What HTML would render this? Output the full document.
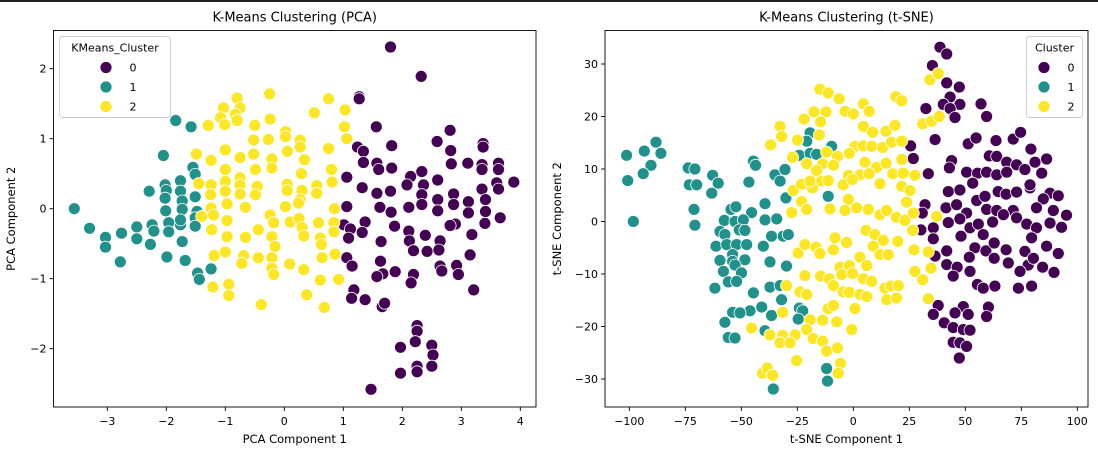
<!DOCTYPE html>
<html><head><meta charset="utf-8"><style>
html,body{margin:0;padding:0;background:#fff;}
svg{display:block;font-family:"DejaVu Sans","Liberation Sans",sans-serif;}
</style></head><body>
<svg id="chart" width="1098" height="455" viewBox="0 0 1098 455">
<rect x="0" y="0" width="1098" height="2" fill="#222"/>
</svg>
<script>
const clusterColors = ["#440154","#21918c","#fde725"];
const clusterLabels = ["0","1","2"];
const pcaXTicks = [-3,-2,-1,0,1,2,3,4];
const pcaYTicks = [-2,-1,0,1,2];
const tsneXTicks = [-100,-75,-50,-25,0,25,50,75,100];
const tsneYTicks = [-30,-20,-10,0,10,20,30];

const pcaX0 = [1.80,2.32,1.27,1.27,1.56,2.81,1.82,1.24,1.34,2.59,3.37,3.37,2.82,1.34,1.57,1.82,2.83,3.11,3.35,3.63,3.35,3.63,1.06,1.60,2.33,2.14,2.08,2.36,2.60,1.32,1.57,1.80,2.33,2.87,3.35,3.60,3.89,3.63,1.06,1.62,1.81,2.11,2.33,2.60,2.60,2.87,3.12,3.12,3.41,3.41,3.40,3.66,1.87,1.37,1.01,1.12,1.09,1.32,1.64,2.11,2.12,2.39,2.19,2.42,2.64,2.62,2.90,2.81,3.18,3.15,1.06,1.15,1.63,1.67,1.57,1.88,2.19,2.15,2.64,2.67,2.92,2.95,3.21,1.18,1.14,1.37,1.66,1.70,2.25,2.25,2.22,1.97,2.50,2.52,2.25,2.25,2.50,1.97,1.47];
const pcaY0 = [2.31,1.89,1.60,1.57,1.17,1.12,0.90,0.88,0.82,0.96,0.93,0.88,0.83,0.66,0.65,0.58,0.64,0.65,0.63,0.65,0.56,0.56,0.45,0.56,0.53,0.46,0.34,0.34,0.41,0.30,0.22,0.25,0.20,0.21,0.28,0.37,0.38,0.28,0.03,0.02,-0.05,0.02,0.06,0.13,-0.03,0.06,0.10,-0.06,0.13,-0.04,-0.21,-0.13,-0.25,-0.19,-0.23,-0.29,-0.42,-0.34,-0.47,-0.32,-0.46,-0.38,-0.60,-0.61,-0.46,-0.59,-0.22,-0.24,-0.37,-0.66,-0.70,-0.82,-0.75,-0.93,-0.97,-0.90,-0.94,-1.06,-0.82,-0.89,-0.81,-0.94,-1.16,-1.16,-1.28,-1.30,-1.40,-1.35,-1.67,-1.75,-1.90,-1.98,-1.95,-2.09,-2.25,-2.33,-2.25,-2.35,-2.58];
const pcaX1 = [-1.84,-1.58,-2.05,-1.55,-1.51,-2.02,-1.76,-2.29,-2.00,-2.02,-2.01,-1.76,-1.73,-1.73,-1.51,-1.48,-1.51,-1.51,-1.76,-1.96,-2.24,-2.21,-1.96,-2.50,-2.50,-2.76,-3.03,-3.03,-3.30,-3.56,-2.78,-2.27,-1.73,-1.99,-1.68,-1.47,-1.44,-1.24,-1.76];
const pcaY1 = [1.26,1.17,0.76,0.59,0.49,0.34,0.40,0.25,0.26,0.15,-0.03,0.25,0.11,-0.01,0.17,-0.04,-0.13,-0.25,-0.23,-0.20,-0.23,-0.32,-0.33,-0.26,-0.43,-0.35,-0.41,-0.55,-0.28,0.00,-0.76,-0.51,-0.47,-0.69,-0.74,-0.92,-1.01,-0.86,-0.16];
const pcaX2 = [-0.80,-0.25,0.75,-1.03,-0.75,-0.83,-1.08,-1.01,-0.80,-1.29,-0.50,-0.24,0.51,1.03,1.02,1.06,0.02,0.02,-0.52,-0.27,0.27,0.27,0.75,-1.00,-1.49,-1.24,-0.75,-0.52,-0.21,0.05,0.34,-1.00,-0.49,-0.21,0.29,0.80,0.81,-0.75,-1.00,-1.45,-1.24,-1.25,-1.00,-0.75,-0.46,-0.75,0.05,0.30,0.55,0.55,0.05,-0.97,-0.66,-0.49,0.27,0.02,0.24,0.85,-1.24,-1.20,-0.97,-1.23,-0.97,-0.66,-0.44,-0.24,-0.18,0.10,0.25,0.30,0.58,0.84,0.33,0.61,0.84,0.63,-0.21,-0.16,-0.21,-0.21,-0.18,-0.44,-0.69,-0.72,-1.00,-1.19,0.09,0.33,0.64,0.86,0.61,0.92,-1.21,-0.94,-0.94,-0.39,0.38,0.68,-1.40];
const pcaY2 = [1.58,1.64,1.57,1.44,1.44,1.35,1.30,1.20,1.26,1.19,1.19,1.28,1.37,1.41,1.17,1.00,1.10,1.03,0.98,0.99,0.98,0.88,0.86,0.84,0.78,0.69,0.73,0.78,0.71,0.82,0.70,0.56,0.56,0.58,0.50,0.56,0.38,0.44,0.39,0.36,0.34,0.20,0.25,0.34,0.32,0.21,0.35,0.26,0.33,0.22,0.26,0.07,0.02,0.20,0.13,0.03,0.08,0.00,0.01,-0.09,-0.17,-0.30,-0.40,-0.41,-0.30,-0.09,-0.20,-0.19,-0.14,-0.27,-0.20,-0.20,-0.39,-0.42,-0.33,-0.51,-0.40,-0.54,-0.70,-0.85,-0.94,-0.70,-0.67,-0.78,-0.62,-0.67,-0.79,-0.87,-0.70,-0.65,-1.02,-1.01,-1.12,-1.08,-1.24,-1.37,-1.23,-1.41,-0.11];

const tsneX0 = [38.7,41.7,35.3,41.7,47.3,43.2,40.2,47.6,43.2,45.4,32.4,57.0,59.5,36.5,51.3,54.8,63.7,71.4,74.7,79.3,25.6,26.8,43.9,42.9,60.7,64.0,68.5,72.9,76.6,81.1,86.3,84.1,33.5,50.6,55.5,59.5,64.0,68.5,53.3,78.9,42.4,47.6,55.1,58.8,64.7,68.2,72.9,78.9,87.8,91.5,84.8,32.0,41.4,46.1,50.6,59.5,64.0,71.4,81.8,89.3,95.2,30.8,42.4,47.6,52.1,55.8,62.2,67.0,72.9,77.4,81.8,87.8,93.0,35.7,30.2,58.0,48.1,35.7,41.7,54.3,59.2,62.9,68.2,76.6,79.6,86.3,91.5,36.5,41.7,46.4,51.8,52.1,62.9,69.2,78.1,80.4,84.5,89.6,44.6,74.4,55.4,58.0,63.2,73.7,79.6,37.9,49.1,60.3,35.7,40.6,45.4,51.3,59.5,44.6,49.1,52.1,44.6,47.6,50.6,47.3];
const tsneY0 = [33.2,31.9,29.7,26.4,25.6,23.7,22.3,22.3,21.5,19.8,21.5,22.4,20.0,15.6,14.8,15.9,15.4,15.7,17.0,13.8,14.4,12.0,11.6,10.2,12.5,12.4,11.3,10.8,9.9,11.3,11.9,9.2,9.1,9.4,9.2,9.4,8.9,9.4,7.3,6.4,5.7,6.0,4.0,4.8,5.7,5.2,5.6,7.0,5.4,4.9,4.3,3.2,2.6,3.2,1.6,2.3,2.1,2.1,2.6,2.1,1.2,1.6,-0.2,0.5,-1.2,-0.5,-0.1,1.3,0.7,-0.5,-1.2,-0.3,-1.1,-1.2,-1.6,-2.5,-2.8,-3.3,-5.6,-5.0,-5.6,-4.1,-5.4,-5.7,-3.1,-4.7,-6.1,-6.6,-8.2,-8.7,-6.8,-9.5,-7.0,-7.9,-8.3,-7.0,-8.7,-9.7,-10.4,-9.5,-12.0,-12.7,-12.3,-12.7,-12.3,-16.0,-16.2,-16.3,-17.7,-19.3,-17.4,-17.7,-18.1,-20.2,-20.6,-20.7,-23.0,-23.1,-23.8,-26.0];
const tsneX1 = [-101.2,-93.3,-88.1,-85.9,-90.3,-93.8,-100.7,-98.2,-73.7,-70.7,-73.2,-69.9,-62.8,-60.3,-63.2,-71.1,-70.7,-44.6,-43.6,-46.6,-35.0,-30.5,-32.7,-19.3,-20.8,-24.1,-19.3,-16.4,-9.7,-11.2,-30.1,-39.4,-45.4,-57.6,-54.6,-52.4,-52.8,-49.1,-59.5,-57.3,-50.9,-48.4,-61.3,-56.5,-52.1,-47.6,-53.9,-53.9,-59.5,-48.4,-52.8,-58.0,-49.9,-55.8,-52.1,-61.8,-39.4,-34.2,-40.2,-36.5,-31.3,-29.0,-37.2,-29.8,-44.6,-37.2,-32.7,-32.0,-40.9,-46.1,-53.9,-50.6,-57.3,-36.5,-24.1,-22.6,-24.6,-55.8,-52.8,-39.4,-11.9,-11.5,-35.7];
const tsneY1 = [12.6,13.4,15.1,13.0,10.7,9.1,7.8,0.0,10.2,10.0,7.0,7.0,8.8,7.3,5.4,2.3,-0.7,11.5,10.7,7.5,8.9,9.9,7.7,16.9,15.3,12.6,13.0,12.8,14.3,4.8,4.5,3.4,1.7,0.2,2.3,2.8,0.0,0.3,-1.9,-2.5,-1.6,-1.7,-4.7,-4.4,-4.4,-4.4,-6.3,-7.6,-7.4,-7.3,-8.3,-9.5,-9.8,-11.5,-11.4,-12.7,0.3,0.5,-4.7,-2.8,-2.8,-2.5,-7.7,-8.5,-13.6,-12.5,-12.2,-14.9,-16.3,-17.0,-17.3,-17.4,-19.2,-17.9,-16.5,-17.0,-18.6,-22.1,-22.2,-20.8,-28.0,-30.4,-31.9];
const tsneX2 = [-14.9,-11.2,-6.3,-3.7,0.0,4.5,7.1,19.0,21.6,-17.6,-12.2,-22.0,-14.6,-32.7,-32.0,-36.9,-24.9,-15.2,4.5,8.6,14.6,18.6,34.2,37.9,31.0,35.0,38.4,-27.1,-20.8,-11.9,-7.1,-13.7,-8.9,-16.4,0.7,4.5,8.2,-1.8,13.1,17.1,21.6,5.2,10.4,14.6,21.6,-2.2,3.0,7.1,17.6,22.3,27.5,-26.8,-23.1,-18.2,-19.3,-14.1,-11.2,-4.5,-0.4,11.9,21.6,25.3,-2.2,23.8,-23.1,-27.5,-20.8,-10.4,-3.7,1.5,6.7,11.9,14.9,19.3,23.1,26.8,37.2,5.7,9.7,13.4,19.8,26.5,-8.2,-3.0,-24.6,-21.6,-16.7,-14.9,-8.9,8.9,11.9,15.6,27.1,33.5,-6.0,-1.8,3.0,6.0,-21.6,-14.6,-10.7,-8.9,-5.2,-0.3,4.5,8.2,14.1,16.8,20.1,27.5,31.0,34.7,-29.8,-23.8,-20.8,-4.5,-1.8,3.0,6.0,14.9,19.3,33.5,-31.5,-19.3,-13.7,-11.2,-8.9,-7.4,0.7,-0.7,-45.4,-37.2,-31.5,-26.0,-32.7,-28.3,-20.8,-17.9,-13.7,-11.9,-7.1,-25.3,-5.7,-6.7,-40.5,-38.4,-36.0];
const tsneY2 = [25.2,24.5,23.4,21.0,20.5,22.4,21.0,23.8,23.0,20.9,20.9,19.5,19.0,18.1,16.2,14.6,15.5,16.5,18.1,17.0,17.2,18.3,27.0,28.2,18.6,19.1,20.0,12.2,11.0,13.2,12.4,11.0,10.7,9.7,14.3,14.4,14.3,13.0,14.1,15.1,15.3,11.3,10.3,11.1,11.8,8.8,8.9,9.1,9.1,9.2,8.8,5.9,7.1,6.4,7.7,7.7,7.8,7.0,8.0,7.2,6.7,5.9,4.2,3.7,3.8,1.7,2.3,2.4,2.1,2.6,2.3,1.3,2.1,0.8,0.2,1.6,1.0,-1.7,-2.5,-3.6,-3.8,-1.7,-3.1,-4.0,-6.0,-4.4,-4.9,-6.1,-5.4,-4.7,-6.3,-6.3,-5.4,-5.8,-8.7,-8.4,-6.8,-8.4,-10.3,-10.4,-10.9,-12.2,-10.1,-9.9,-10.9,-11.4,-12.7,-12.3,-12.2,-9.5,-11.1,-8.9,-12.2,-13.4,-13.9,-13.4,-13.5,-13.9,-14.3,-14.9,-14.6,-14.7,-17.3,-18.7,-18.8,-16.6,-16.0,-19.1,-16.6,-20.6,-20.3,-21.6,-21.7,-21.6,-23.1,-23.1,-20.6,-22.3,-22.8,-24.7,-24.1,-26.5,-27.0,-28.9,-28.9,-27.9,-29.3];

const NS = "http://www.w3.org/2000/svg";
const svg = document.getElementById("chart");
function mk(tag, attrs, parent){
  const e = document.createElementNS(NS, tag);
  for (const k in attrs) e.setAttribute(k, attrs[k]);
  (parent||svg).appendChild(e);
  return e;
}
function linear(d0,d1,r0,r1){ return v => r0 + (v-d0)/(d1-d0)*(r1-r0); }

function panel(cfg){
  const g = mk("g", {});
  
  
  const sx = linear(cfg.xd[0], cfg.xd[1], cfg.xr[0], cfg.xr[1]);
  const sy = linear(cfg.yd[0], cfg.yd[1], cfg.yr[0], cfg.yr[1]);
  const L = cfg.box[0], T = cfg.box[1], R = cfg.box[2], B = cfg.box[3];
  const t = mk("text", {x:(L+R)/2, y:T-9, "text-anchor":"middle", "font-size":"13", fill:"#000"}, g);
  t.textContent = cfg.title;
  
  
  const pg = mk("g", {}, g);
  
  
  cfg.series.forEach((s, ci) => {
    for (let i=0;i<s[0].length;i++){
      const c = mk("circle", {cx:sx(s[0][i]).toFixed(1), cy:sy(s[1][i]).toFixed(1), r:6, fill:clusterColors[ci], stroke:"#fff", "stroke-width":"0.8"}, pg);
      
      
    }
  });
  const fr = mk("rect", {x:L, y:T, width:R-L, height:B-T, fill:"none", stroke:"#000", "stroke-width":"0.9"}, g);
  
  
  cfg.xt.forEach(v => {
    const x = sx(v);
    const tk = mk("line", {x1:x, x2:x, y1:B, y2:B+4, stroke:"#000", "stroke-width":"0.9"}, g);
    
    
    const lb = mk("text", {x:x, y:B+18, "text-anchor":"middle", "font-size":"11", fill:"#000"}, g);
    lb.textContent = v < 0 ? "\u2212" + Math.abs(v) : String(v);
    
    
  });
  cfg.yt.forEach(v => {
    const y = sy(v);
    const tk = mk("line", {x1:L-4, x2:L, y1:y, y2:y, stroke:"#000", "stroke-width":"0.9"}, g);
    
    
    const lb = mk("text", {x:L-7, y:y+4, "text-anchor":"end", "font-size":"11", fill:"#000"}, g);
    lb.textContent = v < 0 ? "\u2212" + Math.abs(v) : String(v);
    
    
  });
  const xl = mk("text", {x:(L+R)/2, y:B+36, "text-anchor":"middle", "font-size":"11.5", fill:"#000"}, g);
  xl.textContent = cfg.xlabel;
  
  
  const ylx = cfg.ylx, yly = (T+B)/2;
  const yl = mk("text", {x:ylx, y:yly, "text-anchor":"middle", "font-size":"11.5", fill:"#000", transform:"rotate(-90 "+ylx+" "+yly+")"}, g);
  yl.textContent = cfg.ylabel;
  
  
  const lg = mk("g", {}, g);
  
  
  const lb = cfg.legend;
  mk("rect", {x:lb.x, y:lb.y, width:lb.w, height:81, rx:3, fill:"#fff", "fill-opacity":"0.8", stroke:"#ccc", "stroke-width":"0.9"}, lg);
  const lt = mk("text", {x:lb.x+lb.w/2, y:lb.y+15, "text-anchor":"middle", "font-size":"11", fill:"#000"}, lg);
  lt.textContent = lb.title;
  
  
  clusterLabels.forEach((lab, i) => {
    const yy = lb.y + 31 + i*19.5;
    const e = mk("g", {}, lg);
    
    
    mk("circle", {cx:lb.mx, cy:yy, r:6, fill:clusterColors[i], stroke:"#fff", "stroke-width":"0.8"}, e);
    const tx = mk("text", {x:lb.tx, y:yy+4, "text-anchor":"middle", "font-size":"11", fill:"#000"}, e);
    tx.textContent = lab;
  });
}

panel({name:"pca-panel", title:"K-Means Clustering (PCA)", box:[53.5,30.5,536,407],
  xd:[0,1], xr:[284.3,343.3], yd:[0,1], yr:[208.7,138.7],
  xt:pcaXTicks, yt:pcaYTicks, xlabel:"PCA Component 1", ylabel:"PCA Component 2", ylx:15,
  series:[[pcaX0,pcaY0],[pcaX1,pcaY1],[pcaX2,pcaY2]],
  legend:{x:59.5, y:36.5, w:111, title:"KMeans_Cluster", mx:106, tx:133}});
panel({name:"tsne-panel", title:"K-Means Clustering (t-SNE)", box:[605,30.5,1088,407],
  xd:[0,100], xr:[853.3,1077.3], yd:[0,10], yr:[221.5,169],
  xt:tsneXTicks, yt:tsneYTicks, xlabel:"t-SNE Component 1", ylabel:"t-SNE Component 2", ylx:561,
  series:[[tsneX0,tsneY0],[tsneX1,tsneY1],[tsneX2,tsneY2]],
  legend:{x:1026.5, y:36.5, w:56, title:"Cluster", mx:1044, tx:1071}});
</script>
</body></html>
